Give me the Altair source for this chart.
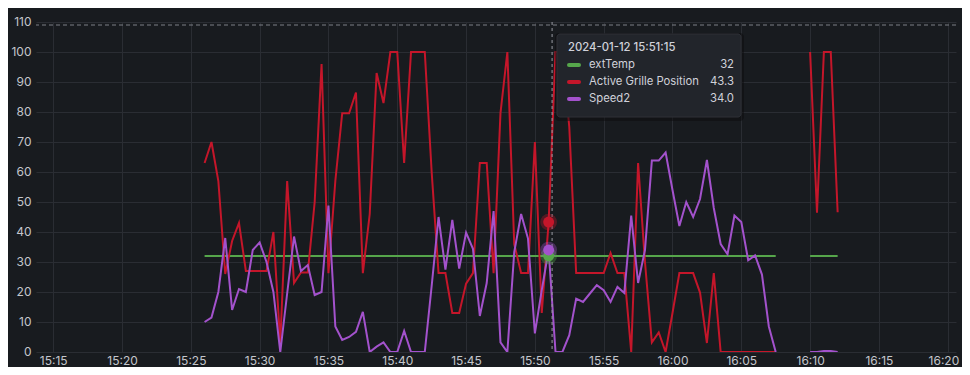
import altair as alt
import pandas as pd

# ---------------- data ----------------
series_names = ["extTemp", "Active Grille Position", "Speed2"]
series_colors = ["#56A64B", "#C4162A", "#A352CC"]

seg1_start = "2024-01-12 15:26:00"
seg2_start = "2024-01-12 16:10:00"
sample_step = "30s"

ext_temp_1 = [32, 32, 32, 32, 32, 32, 32, 32, 32, 32, 32, 32, 32, 32, 32, 32, 32, 32, 32, 32, 32,
              32, 32, 32, 32, 32, 32, 32, 32, 32, 32, 32, 32, 32, 32, 32, 32, 32, 32, 32, 32, 32,
              32, 32, 32, 32, 32, 32, 32, 32, 32, 32, 32, 32, 32, 32, 32, 32, 32, 32, 32, 32, 32,
              32, 32, 32, 32, 32, 32, 32, 32, 32, 32, 32, 32, 32, 32, 32, 32, 32, 32, 32, 32, 32]
grille_1 = [63, 70, 57, 26, 37, 43, 27, 27, 27, 27, 40, 3, 57, 23, 26.5, 26.5, 50, 96, 26.3, 57,
            79.6, 79.6, 86.5, 26.3, 46, 93, 83, 100, 100, 63, 100, 100, 100, 60, 26.3, 26.3, 13, 13,
            22.8, 26.3, 63, 63, 26.3, 79.6, 100, 36, 26.3, 26.3, 70, 13, 43.3, 100, 100, 75, 26.3,
            26.3, 26.3, 26.3, 26.3, 33, 26.3, 26.3, 0, 63, 30, 3.2, 6.5, 0, 13, 26.3, 26.3, 26.3,
            19.8, 3, 26.3, 0, 0, 0, 0, 0, 0, 0, 0, 0]
speed2_1 = [10, 11.5, 20, 38, 14, 21, 20, 34, 36.5, 30, 20, 0, 19.5, 38.5, 27, 29, 19, 20, 48.8,
            8.5, 4, 5, 6.7, 13.4, 0, 1.8, 3.2, 0, 0, 7, 0, 0, 0, 22, 45, 27.5, 44, 27.8, 39.8,
            34.4, 12, 23, 47, 3.2, 0, 33.3, 46, 37.8, 6.2, 20.6, 34.0, 0, 0, 5.6, 17.8, 16.7, 19.5,
            22.3, 20.6, 16.7, 21.7, 19.7, 45.5, 23, 34, 63.8, 63.8, 66.5, 54, 42, 50, 45, 51, 64,
            48, 36, 32.6, 45.5, 43.3, 30.6, 32.2, 25.8, 8.5, 0]

ext_temp_2 = [32, 32, 32, 32, 32]
grille_2 = [100, 46.4, 100, 100, 46.6]
speed2_2 = [0, 0, 0.3, 0.3, 0]

hover_index = 50
hover_label = "2024-01-12 15:51:15"
crosshair_time = "2024-01-12T15:51:15"
threshold_value = 109
y_ticks = [0, 10, 20, 30, 40, 50, 60, 70, 80, 90, 100, 110]
x_tick_times = ["15:15", "15:20", "15:25", "15:30", "15:35", "15:40", "15:45",
                "15:50", "15:55", "16:00", "16:05", "16:10", "16:15", "16:20"]

# ---------------- build table ----------------
rows = []
segments = [
    (seg1_start, [ext_temp_1, grille_1, speed2_1]),
    (seg2_start, [ext_temp_2, grille_2, speed2_2]),
]
for s_i, (t0, seg_vals) in enumerate(segments):
    times = pd.date_range(t0, periods=len(seg_vals[0]), freq=sample_step)
    for name, vals in zip(series_names, seg_vals):
        for k, (t, v) in enumerate(zip(times, vals)):
            rows.append({"time": t.strftime("%Y-%m-%dT%H:%M:%S"), "value": v,
                         "series": name, "seg": f"{name}-{s_i}", "idx": k, "segno": s_i})
df = pd.DataFrame(rows)
hover_df = df[(df.segno == 0) & (df.idx == hover_index)]


def dt(h, m, s=0):
    return alt.DateTime(year=2024, month=1, date=12, hours=h, minutes=m, seconds=s)


x_values = [dt(int(t[:2]), int(t[3:])) for t in x_tick_times]
x_scale = alt.Scale(domain=[dt(15, 13, 45), dt(16, 20, 36)])
y_scale = alt.Scale(domain=[0, 110], nice=False)
color_scale = alt.Scale(domain=series_names, range=series_colors)

label_color = "#c4c6cc"
grid_color = "#2a2d33"

x_axis = alt.Axis(values=x_values, format="%H:%M", title=None, grid=True,
                  gridColor=grid_color, domain=False, ticks=False,
                  labelColor=label_color, labelFont="Inter", labelFontSize=12,
                  labelPadding=3, labelFlush=False, labelOverlap=False, labelBound=False,
                  labelAlign=alt.expr("datum.index >= 0.999 ? 'right' : 'center'"),
                  labelOffset=alt.expr("datum.index >= 0.999 ? 11 : 0"))
y_axis = alt.Axis(values=y_ticks, title=None, grid=True, gridColor=grid_color,
                  domain=False, ticks=False, labelColor=label_color,
                  labelFont="Inter", labelFontSize=12, labelPadding=5,
                  labelFlush=False, labelOverlap=False, labelOffset=-1)

X = alt.X("time:T", scale=x_scale, axis=x_axis, title=None)
Y = alt.Y("value:Q", scale=y_scale, axis=y_axis, title=None)

lines = alt.Chart(df).mark_line(strokeWidth=2, clip=True).encode(
    x=X, y=Y,
    color=alt.Color("series:N", scale=color_scale, legend=None),
    detail="seg:N",
)

threshold = alt.Chart(pd.DataFrame({"value": [threshold_value]})).mark_rule(
    strokeDash=[4, 3], color="#7d8087", strokeWidth=1
).encode(y=Y)

crosshair = alt.Chart(pd.DataFrame({"time": [crosshair_time]})).mark_rule(
    strokeDash=[3, 3], color="#9a9ca3", strokeWidth=1
).encode(x=X)

halo = alt.Chart(hover_df).mark_circle(size=280, opacity=0.35).encode(
    x=X, y=Y, color=alt.Color("series:N", scale=color_scale, legend=None),
)
core = alt.Chart(hover_df).mark_circle(size=120, opacity=1).encode(
    x=X, y=Y, color=alt.Color("series:N", scale=color_scale, legend=None),
)

one = pd.DataFrame({"a": [0]})
shadow = alt.Chart(one).mark_rect(color="#0b0c0e", opacity=0.5, cornerRadius=4).encode(
    x=alt.value(519), x2=alt.value(708), y=alt.value(11), y2=alt.value(99))
box = alt.Chart(one).mark_rect(color="#22252b", stroke="#2e3137", strokeWidth=1,
                               cornerRadius=3).encode(
    x=alt.value(521), x2=alt.value(705), y=alt.value(12), y2=alt.value(95))

text_style = dict(font="Inter", fontSize=11.3, color="#d0d1da", baseline="middle")
tip_layers = [
    alt.Chart(one).mark_text(align="left", fontWeight=500, **text_style).encode(
        x=alt.value(532), y=alt.value(26), text=alt.value(hover_label))
]
hover_values = [f"{ext_temp_1[hover_index]:.0f}", f"{grille_1[hover_index]:.1f}",
                f"{speed2_1[hover_index]:.1f}"]
for r, (name, col, val) in enumerate(zip(series_names, series_colors, hover_values)):
    yy = 43 + 17 * r
    tip_layers.append(
        alt.Chart(one).mark_rule(color=col, strokeWidth=4, strokeCap="round").encode(
            x=alt.value(533), x2=alt.value(543), y=alt.value(yy)))
    tip_layers.append(
        alt.Chart(one).mark_text(align="left", **text_style).encode(
            x=alt.value(553), y=alt.value(yy), text=alt.value(name)))
    tip_layers.append(
        alt.Chart(one).mark_text(align="right", **text_style).encode(
            x=alt.value(698), y=alt.value(yy), text=alt.value(val)))

chart = alt.layer(lines, threshold, crosshair, halo, core, shadow, box, *tip_layers).properties(
    width=920, height=330,
    padding={"left": 28, "top": 14, "right": 6, "bottom": 15},
    autosize=alt.AutoSizeParams(type="none"),
    background="#181b1f",
).configure_view(stroke=None)

chart.save("out.html", embed_options={"renderer": "svg", "actions": False})
